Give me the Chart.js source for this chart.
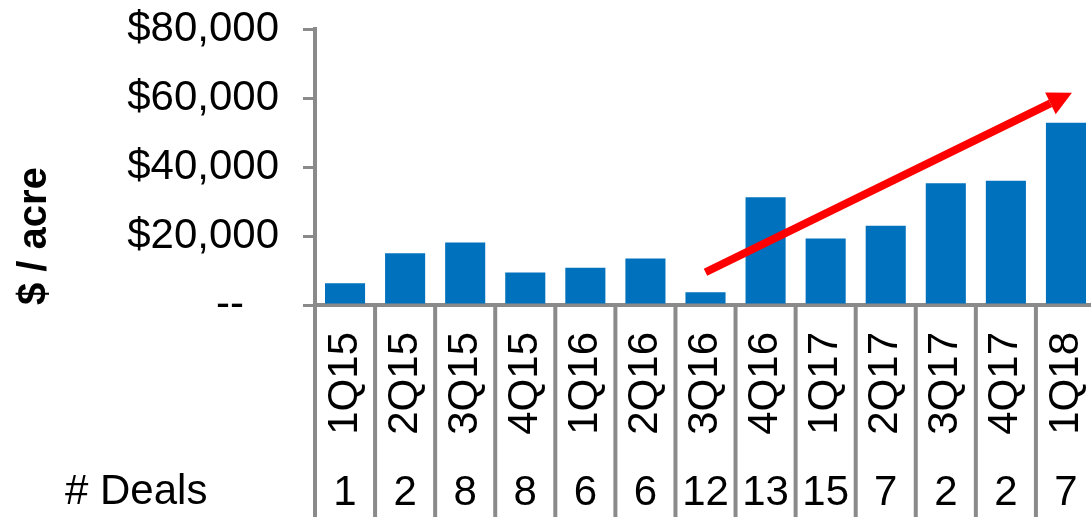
<!DOCTYPE html>
<html>
<head>
<meta charset="utf-8">
<script src="https://cdn.jsdelivr.net/npm/chart.js@4"></script>
<style>
  html, body { margin: 0; padding: 0; background: #fff; overflow: hidden; }
  #wrap { width: 1100px; height: 517px; }
</style>
</head>
<body>
<div id="wrap"><canvas id="acreChart"></canvas></div>
<script>
// quarterly $/acre and number of deals
const quarters = ['1Q15', '2Q15', '3Q15', '4Q15', '1Q16', '2Q16', '3Q16', '4Q16', '1Q17', '2Q17', '3Q17', '4Q17', '1Q18'];
const pricePerAcre = [6300, 15000, 18100, 9400, 10800, 13500, 3700, 31200, 19300, 23000, 35300, 36000, 52800];
const dealCounts = [1, 2, 8, 8, 6, 6, 12, 13, 15, 7, 2, 2, 7];
const yTicks = [0, 20000, 40000, 60000, 80000];

// trend arrow, [category index, $/acre]
const trendFrom = [6, 9500];
const trendTo = [12.1, 61500];

const GRAY = '#8a8a8a';
const FONT = '"Liberation Sans", Arial, sans-serif';
Chart.defaults.font.family = FONT;
Chart.defaults.color = '#000';

function money(v) {
  if (v === 0) return '--   ';
  return '$' + String(v).replace(/\B(?=(\d{3})+(?!\d))/g, ',');
}

//--------------- separators, deals row, arrow ---------------//
const extras = {
  id: 'extras',
  afterDatasetsDraw(chart) {
    const {ctx, scales: {x, y}} = chart;
    const x0 = x.getPixelForValue(trendFrom[0]), y0 = y.getPixelForValue(trendFrom[1]);
    const x1 = x.getPixelForValue(trendTo[0]), y1 = y.getPixelForValue(trendTo[1]);
    const ang = Math.atan2(y1 - y0, x1 - x0);
    const headLen = 24, headHalf = 12;
    const bx = x1 - headLen * Math.cos(ang), by = y1 - headLen * Math.sin(ang);
    ctx.save();
    ctx.strokeStyle = '#ff0000';
    ctx.fillStyle = '#ff0000';
    ctx.lineWidth = 8;
    ctx.beginPath();
    ctx.moveTo(x0, y0);
    ctx.lineTo(bx, by);
    ctx.stroke();
    ctx.beginPath();
    ctx.moveTo(x1, y1);
    ctx.lineTo(bx + headHalf * Math.sin(ang), by - headHalf * Math.cos(ang));
    ctx.lineTo(bx - headHalf * Math.sin(ang), by + headHalf * Math.cos(ang));
    ctx.closePath();
    ctx.fill();
    ctx.restore();
  },
  afterDraw(chart) {
    const {ctx, scales: {x}, chartArea} = chart;
    const step = x.getPixelForValue(1) - x.getPixelForValue(0);
    ctx.save();
    ctx.strokeStyle = GRAY;
    ctx.lineWidth = 4;
    for (let i = 0; i <= quarters.length; i++) {
      const px = x.getPixelForValue(i) - step / 2;
      ctx.beginPath();
      ctx.moveTo(px, chartArea.bottom);
      ctx.lineTo(px, chart.height);
      ctx.stroke();
    }
    ctx.fillStyle = '#000';
    ctx.font = '42px ' + FONT;
    ctx.textBaseline = 'alphabetic';
    ctx.textAlign = 'center';
    dealCounts.forEach(function(n, i) {
      ctx.fillText(String(n), x.getPixelForValue(i), 505);
    });
    ctx.textAlign = 'left';
    ctx.fillText('# Deals', 65, 504);
    ctx.restore();
  }
};

// fixed axis boxes, no extra label padding
function noPad(scale) {
  scale.paddingLeft = 0;
  scale.paddingRight = 0;
  scale.paddingTop = 0;
  scale.paddingBottom = 0;
}

const chart = new Chart(
  document.getElementById('acreChart'),
  {
    type: 'bar',
    data: {
      labels: quarters,
      datasets: [
        {
          label: '$ / acre',
          data: pricePerAcre,
          backgroundColor: '#0071bd',
          categoryPercentage: 1,
          barPercentage: 0.667
        }
      ]
    },
    options: {
      responsive: true,
      maintainAspectRatio: false,
      animation: false,
      layout: { padding: { top: 29, right: 4, bottom: 0, left: 0 } },
      plugins: { legend: { display: false }, tooltip: { enabled: false } },
      scales: {
        x: {
          offset: true,
          grid: { display: false, drawTicks: false },
          border: { display: true, color: GRAY, width: 4 },
          ticks: {
            autoSkip: false,
            minRotation: 90,
            maxRotation: 90,
            padding: 27,
            font: { size: 42 },
            color: '#000'
          },
          afterFit: function(scale) { scale.height = 212; noPad(scale); }
        },
        y: {
          min: 0,
          max: 80000,
          afterBuildTicks: function(scale) {
            scale.ticks = yTicks.map(function(v) { return {value: v}; });
          },
          grid: {
            display: true,
            drawOnChartArea: false,
            drawTicks: true,
            tickLength: 12,
            color: GRAY,
            lineWidth: 3
          },
          border: { display: true, color: GRAY, width: 4 },
          ticks: {
            padding: 24,
            font: { size: 42 },
            color: '#000',
            callback: money
          },
          title: {
            display: true,
            text: '$ / acre',
            align: 'start',
            color: '#000',
            font: { size: 40, weight: 'bold' },
            padding: { top: 11, bottom: 0 }
          },
          afterFit: function(scale) { scale.width = 315; noPad(scale); }
        }
      }
    },
    plugins: [extras]
  }
);
</script>
</body>
</html>
